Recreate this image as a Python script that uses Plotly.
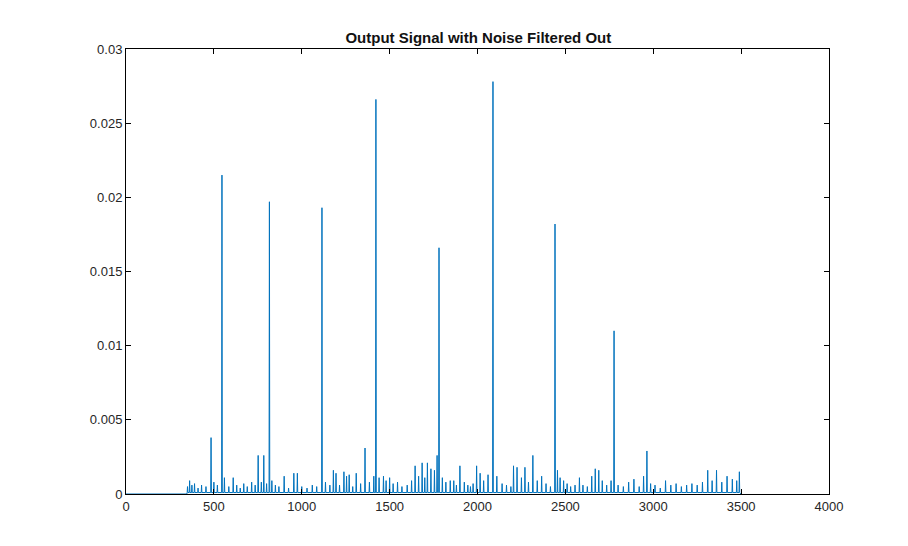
import plotly.graph_objects as go

# spike positions (sample index) and heights
spike_x = [350, 362, 375, 390, 410, 430, 455, 484, 500, 520, 546, 560, 585, 610, 630, 650,
           670, 690, 715, 735, 752, 770, 784, 800, 816, 830, 850, 870, 900, 925, 955, 975,
           1000, 1030, 1060, 1085, 1115, 1135, 1160, 1180, 1195, 1215, 1240, 1255, 1270, 1290,
           1310, 1335, 1360, 1385, 1410, 1422, 1440, 1465, 1480, 1500, 1520, 1545, 1570, 1600,
           1625, 1645, 1665, 1685, 1700, 1715, 1735, 1755, 1770, 1781, 1800, 1820, 1845, 1865,
           1880, 1900, 1925, 1945, 1960, 1975, 1995, 2015, 2035, 2060, 2088, 2110, 2140, 2165,
           2190, 2205, 2225, 2250, 2270, 2290, 2315, 2340, 2365, 2390, 2415, 2441, 2455, 2470,
           2490, 2510, 2530, 2555, 2580, 2600, 2625, 2650, 2670, 2690, 2710, 2735, 2760, 2777,
           2800, 2830, 2860, 2890, 2920, 2945, 2964, 2985, 3010, 3040, 3070, 3100, 3130, 3160,
           3190, 3220, 3250, 3280, 3310, 3335, 3360, 3390, 3420, 3450, 3475, 3490]
spike_y = [0.0005, 0.0009, 0.0006, 0.0007, 0.0004, 0.0006, 0.0005, 0.0038, 0.0008, 0.0006,
           0.0215, 0.0011, 0.0005, 0.0011, 0.0006, 0.0004, 0.0007, 0.0005, 0.0008, 0.0006,
           0.0026, 0.0008, 0.0026, 0.0007, 0.0197, 0.0009, 0.0006, 0.0005, 0.0012, 0.0004,
           0.0014, 0.0014, 0.0005, 0.0004, 0.0006, 0.0005, 0.0193, 0.0008, 0.0006, 0.0016,
           0.0014, 0.0006, 0.0015, 0.0012, 0.0013, 0.0005, 0.0014, 0.0007, 0.0031, 0.0008,
           0.0012, 0.0266, 0.0011, 0.0012, 0.0009, 0.0011, 0.0007, 0.0008, 0.0005, 0.0006,
           0.0009, 0.0019, 0.0012, 0.0021, 0.0011, 0.0021, 0.0017, 0.0016, 0.0026, 0.0166,
           0.0011, 0.0008, 0.0009, 0.0009, 0.0006, 0.0019, 0.0008, 0.0006, 0.0005, 0.0007,
           0.0019, 0.0014, 0.0009, 0.0013, 0.0278, 0.0012, 0.0007, 0.0006, 0.0005, 0.0019,
           0.0018, 0.0011, 0.0018, 0.0008, 0.0026, 0.0009, 0.0012, 0.0007, 0.0005, 0.0182,
           0.0016, 0.0011, 0.0009, 0.0007, 0.0005, 0.0006, 0.0011, 0.0006, 0.0005, 0.0012,
           0.0017, 0.0016, 0.0009, 0.0006, 0.0009, 0.0110, 0.0006, 0.0005, 0.0008, 0.0010,
           0.0005, 0.0012, 0.0029, 0.0007, 0.0006, 0.0004, 0.0009, 0.0006, 0.0007, 0.0005,
           0.0006, 0.0007, 0.0006, 0.0008, 0.0016, 0.0009, 0.0016, 0.0008, 0.0012, 0.0010,
           0.0009, 0.0015]

xs, ys = [0, spike_x[0] - 4], [0, 0]
for sx, sy in zip(spike_x, spike_y):
    xs += [sx - 2, sx, sx + 2]
    ys += [0.0001, sy, 0.0001]
xs.append(3500)
ys.append(0)

fig = go.Figure()
fig.add_trace(go.Scatter(x=xs, y=ys, mode="lines", line=dict(color="#0072BD", width=1)))

axis = dict(showgrid=False, zeroline=False, showline=True, linecolor="black", linewidth=1,
            mirror="ticks", ticks="inside", ticklen=5, tickcolor="black", automargin=False,
            tickfont=dict(size=13, color="#262626"))
fig.update_xaxes(range=[0, 4000], dtick=500, **axis)
fig.update_yaxes(range=[0, 0.03], dtick=0.005, **axis)
fig.update_layout(
    width=908, height=546, showlegend=False,
    plot_bgcolor="white", paper_bgcolor="white",
    font=dict(family="Liberation Sans, Arial, sans-serif"),
    margin=dict(l=118, r=87, t=41, b=60, autoexpand=False),
    title=dict(text="<b>Output Signal with Noise Filtered Out</b>", x=0.518, xanchor="center",
               yref="container", y=1 - 30 / 546, yanchor="middle",
               font=dict(size=15, color="#111111")),
)
fig.write_html("out.html")
